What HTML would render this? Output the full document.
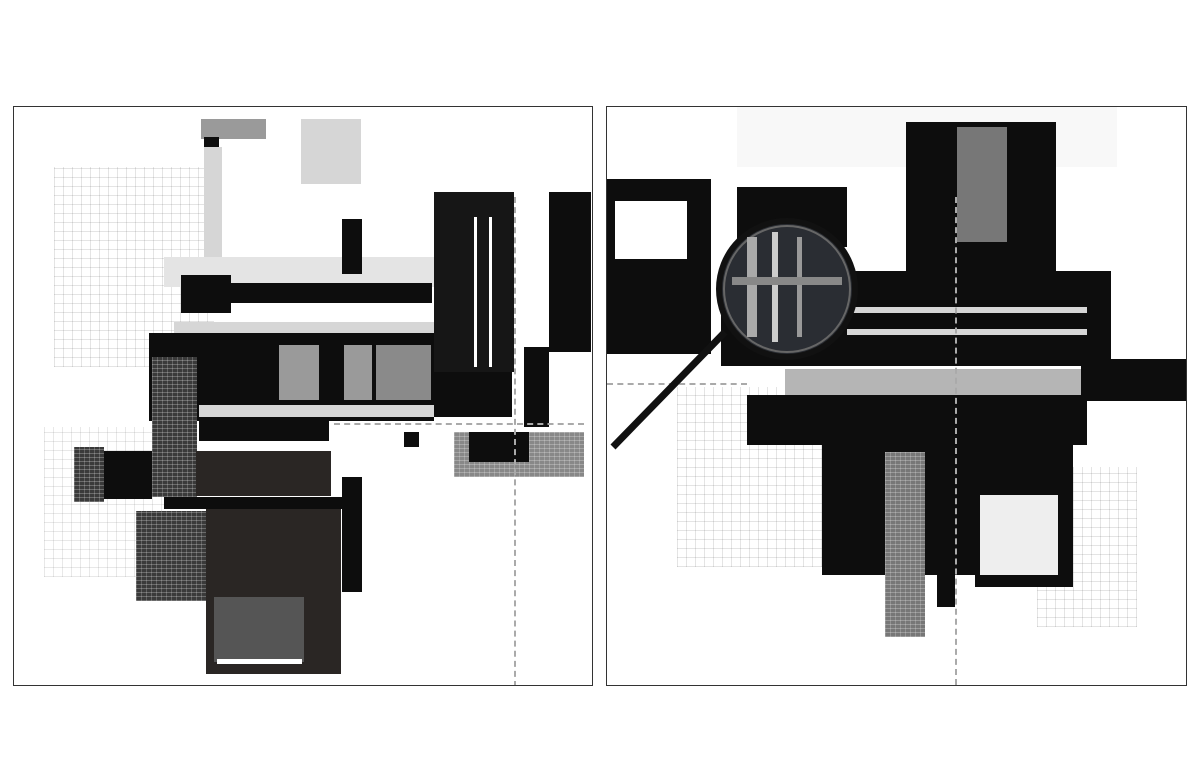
<!DOCTYPE html>
<html><head><meta charset="utf-8"><style>
html,body{margin:0;padding:0;background:#fff;}
body{width:1200px;height:772px;position:relative;overflow:hidden;font-family:"Liberation Sans",sans-serif;}
.p{position:absolute;border:1px solid #333;background:#fff;overflow:hidden;}
.b{position:absolute;background:#0d0d0d;}
.d{position:absolute;background:#2a2624;}
.g{position:absolute;background:#9a9a9a;}
.lg{position:absolute;background:#d6d6d6;}
.w{position:absolute;background:#fff;}
.grid{position:absolute;background-image:repeating-linear-gradient(0deg,rgba(0,0,0,.18) 0 1px,transparent 1px 9px),repeating-linear-gradient(90deg,rgba(0,0,0,.18) 0 1px,transparent 1px 9px);}
.tex{position:absolute;background:#3a3a3a;background-image:repeating-linear-gradient(0deg,rgba(255,255,255,.25) 0 1px,transparent 1px 4px),repeating-linear-gradient(90deg,rgba(255,255,255,.2) 0 1px,transparent 1px 5px);}
.ln{position:absolute;border-left:2px dashed #aaa;}
.hl{position:absolute;border-top:2px dashed #aaa;}
</style></head><body>
<!-- Left panel -->
<div class="p" style="left:13px;top:106px;width:578px;height:578px;">
 <div class="grid" style="left:40px;top:60px;width:160px;height:200px;opacity:.6"></div>
 <div class="grid" style="left:30px;top:320px;width:120px;height:150px;opacity:.5"></div>
 <div class="g" style="left:187px;top:12px;width:65px;height:20px;"></div>
 <div class="b" style="left:190px;top:30px;width:15px;height:14px;"></div>
 <div class="lg" style="left:287px;top:12px;width:60px;height:65px;"></div>
 <div class="lg" style="left:190px;top:40px;width:18px;height:110px;"></div>
 <div class="lg" style="left:150px;top:150px;width:270px;height:30px;background:#e4e4e4"></div>
 <div class="b" style="left:328px;top:112px;width:20px;height:55px;"></div>
 <div class="b" style="left:167px;top:168px;width:50px;height:38px;"></div>
 <div class="b" style="left:200px;top:176px;width:218px;height:20px;"></div>
 <div class="lg" style="left:160px;top:215px;width:260px;height:12px;"></div>
 <div class="b" style="left:135px;top:226px;width:285px;height:88px;"></div>
 <div class="g" style="left:265px;top:238px;width:40px;height:55px;"></div>
 <div class="g" style="left:330px;top:238px;width:28px;height:55px;"></div>
 <div class="g" style="left:362px;top:238px;width:55px;height:55px;background:#8a8a8a"></div>
 <div class="tex" style="left:138px;top:250px;width:45px;height:140px;"></div>
 <div class="lg" style="left:185px;top:298px;width:235px;height:12px;"></div>
 <div class="b" style="left:185px;top:312px;width:130px;height:22px;"></div>
 <div class="b" style="left:88px;top:344px;width:50px;height:48px;"></div>
 <div class="tex" style="left:60px;top:340px;width:30px;height:55px;"></div>
 <div class="d" style="left:182px;top:344px;width:135px;height:45px;"></div>
 <div class="b" style="left:150px;top:390px;width:180px;height:12px;"></div>
 <div class="tex" style="left:122px;top:404px;width:80px;height:90px;"></div>
 <div class="d" style="left:192px;top:402px;width:135px;height:165px;"></div>
 <div class="g" style="left:200px;top:490px;width:90px;height:65px;background:#555"></div>
 <div class="w" style="left:203px;top:552px;width:85px;height:5px;"></div>
 <div class="b" style="left:328px;top:370px;width:20px;height:115px;"></div>
 <div class="b" style="left:420px;top:85px;width:80px;height:180px;background:#161616"></div>
 <div class="w" style="left:460px;top:110px;width:3px;height:150px;"></div>
 <div class="w" style="left:475px;top:110px;width:3px;height:150px;"></div>
 <div class="b" style="left:420px;top:265px;width:78px;height:45px;"></div>
 <div class="b" style="left:510px;top:240px;width:25px;height:80px;"></div>
 <div class="b" style="left:535px;top:85px;width:42px;height:160px;"></div>
 <div class="tex" style="left:440px;top:325px;width:130px;height:45px;background-color:#888"></div>
 <div class="b" style="left:455px;top:325px;width:60px;height:30px;"></div>
 <div class="b" style="left:390px;top:325px;width:15px;height:15px;"></div>
 <div class="ln" style="left:500px;top:90px;height:490px;"></div>
 <div class="hl" style="left:320px;top:316px;width:250px;"></div>
</div>
<!-- Right panel -->
<div class="p" style="left:606px;top:106px;width:579px;height:578px;">
 <div class="grid" style="left:70px;top:280px;width:160px;height:180px;opacity:.6"></div>
 <div class="grid" style="left:430px;top:360px;width:100px;height:160px;opacity:.6"></div>
 <div class="lg" style="left:130px;top:0px;width:380px;height:60px;background:#f8f8f8"></div>
 <div class="b" style="left:299px;top:15px;width:150px;height:150px;"></div>
 <div class="g" style="left:350px;top:20px;width:50px;height:115px;background:#777"></div>
 <div class="b" style="left:0px;top:72px;width:104px;height:175px;"></div>
 <div class="w" style="left:8px;top:94px;width:72px;height:58px;"></div>
 <div class="b" style="left:130px;top:80px;width:110px;height:60px;"></div>
 <div class="b" style="left:114px;top:164px;width:390px;height:95px;"></div>
 <div class="lg" style="left:240px;top:200px;width:240px;height:6px;"></div>
 <div class="lg" style="left:240px;top:222px;width:240px;height:6px;"></div>
 <div class="g" style="left:178px;top:262px;width:300px;height:28px;background:#b5b5b5"></div>
 <div class="b" style="left:140px;top:288px;width:340px;height:50px;"></div>
 <div class="b" style="left:474px;top:252px;width:105px;height:42px;"></div>
 <div class="b" style="left:215px;top:338px;width:165px;height:130px;"></div>
 <div class="tex" style="left:278px;top:345px;width:40px;height:185px;background-color:#777"></div>
 <div class="b" style="left:368px;top:315px;width:98px;height:165px;"></div>
 <div class="lg" style="left:373px;top:388px;width:78px;height:80px;background:#eee"></div>
 <div class="b" style="left:330px;top:300px;width:18px;height:200px;"></div>
 <div class="ln" style="left:348px;top:90px;height:488px;"></div>
 <div class="hl" style="left:0px;top:276px;width:140px;"></div>
 <svg style="position:absolute;left:0;top:0" width="579" height="578">
  <line x1="118" y1="225" x2="6" y2="340" stroke="#111" stroke-width="7"/>
  <circle cx="180" cy="182" r="68" fill="#2a2d33" stroke="#111" stroke-width="6"/>
  <circle cx="180" cy="182" r="63" fill="none" stroke="#666" stroke-width="2"/>
  <rect x="140" y="130" width="10" height="100" fill="#aaa"/>
  <rect x="165" y="125" width="6" height="110" fill="#ccc"/>
  <rect x="190" y="130" width="5" height="100" fill="#999"/>
  <rect x="125" y="170" width="110" height="8" fill="#888"/>
 </svg>
</div>
</body></html>
